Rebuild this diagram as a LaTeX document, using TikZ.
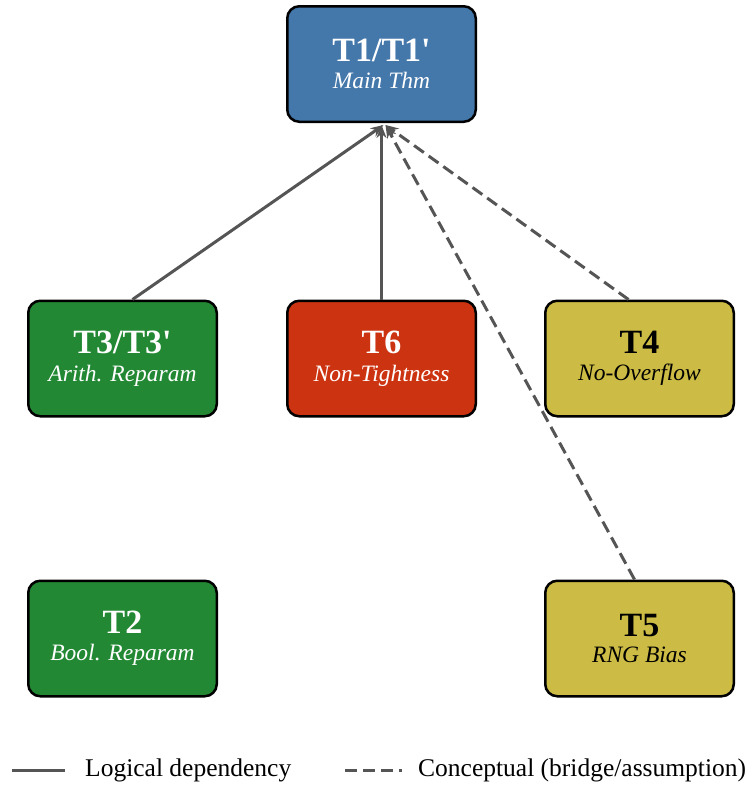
\documentclass[tikz,border=0pt]{standalone}
\usepackage{fontspec}
\setmainfont{Liberation Serif}
\usetikzlibrary{arrows.meta,positioning}
\definecolor{thmblue}{HTML}{4477AA}
\definecolor{thmgreen}{HTML}{228833}
\definecolor{thmred}{HTML}{CC3311}
\definecolor{thmyellow}{HTML}{CCBB44}
\definecolor{depgray}{HTML}{555555}
\newcommand{\thmlbl}[2]{{\fontsize{34}{34}\selectfont\bfseries #1}\\[10pt]{\fontsize{23.5}{24}\selectfont\itshape #2}}
\tikzset{
  thm/.style = {draw=black, line width=2.5pt, rounded corners=12pt,
    minimum width=188.5pt, minimum height=115.5pt, inner sep=0pt,
    align=center, text=white},% theorem box
  logdep/.style = {depgray, line width=3pt, -{Stealth[length=13pt,width=10pt]}},% solid
  condep/.style = {logdep, dash pattern=on 12pt off 6pt}% dashed
}
\begin{document}
\begin{tikzpicture}[x=1pt, y=-1pt]
    \useasboundingbox (0,0) rectangle (752,787);
    \node [thm, fill=thmblue] (T1) at (381.5,64) {\thmlbl{T1/T1\textquotesingle}{Main Thm}};
    \node [thm, fill=thmgreen] (T3) at (122.5,358.5) {\thmlbl{T3/T3\textquotesingle}{Arith. Reparam}};
    \node [thm, fill=thmred] (T6) at (381.5,358.5) {\thmlbl{T6}{Non-Tightness}};
    \node [thm, fill=thmyellow, text=black] (T4) at (639.5,358.5) {\thmlbl{T4}{No-Overflow}};
    \node [thm, fill=thmgreen] (T2) at (122.5,638.5) {\thmlbl{T2}{Bool. Reparam}};
    \node [thm, fill=thmyellow, text=black] (T5) at (639.5,638.5) {\thmlbl{T5}{RNG Bias}};

    \draw [logdep] ([xshift=10pt]T3.north) -- ([xshift=2pt,yshift=-2pt]T1.south);
    \draw [logdep] (T6.north) -- ([yshift=-2pt]T1.south);
    \draw [condep] ([xshift=-11pt]T4.north) -- ([xshift=4pt,yshift=-2pt]T1.south);
    \draw [condep] ([xshift=-5pt]T5.north) -- ([xshift=4pt,yshift=-2pt]T1.south);

    % legend
    \coordinate (lgA) at (12,770);
    \coordinate (lgB) at (65,770);
    \coordinate (lgC) at (345,770);
    \coordinate (lgD) at (402,770);
    \draw [depgray, line width=3pt] (lgA) -- (lgB);
    \draw [depgray, line width=3pt, dash pattern=on 12pt off 6pt] (lgC) -- (lgD);
    \node [anchor=west, inner sep=0pt, font=\fontsize{25.5}{26}\selectfont] (lgtxtA) at (85,770) {Logical dependency};
    \node [anchor=west, inner sep=0pt, font=\fontsize{25.5}{26}\selectfont] (lgtxtB) at (418,770) {Conceptual (bridge/assumption)};
\end{tikzpicture}
\end{document}
